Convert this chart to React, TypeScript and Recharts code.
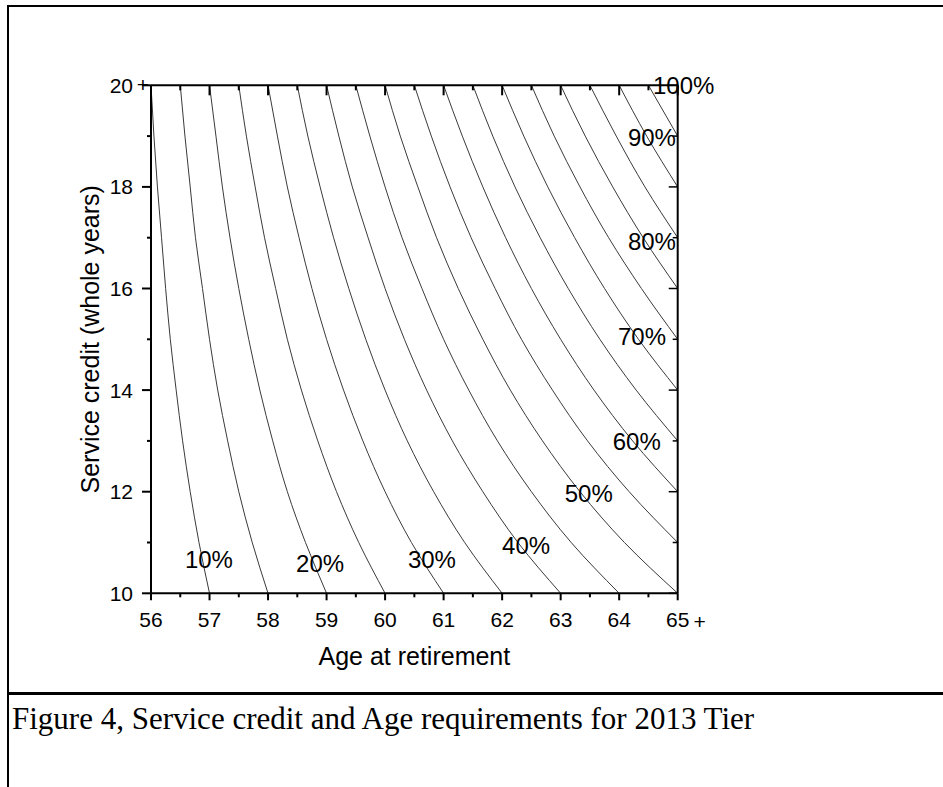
import React from 'react';
import { ComposedChart, Line, Scatter, XAxis, YAxis } from 'recharts';

// service credit rows the contour ages are read at (whole years)
const serviceYears = [10, 11, 12, 13, 14, 15, 16, 17, 18, 19, 20];

// contour levels (%) – one line each, 100% is only the top-right corner
const contourLevels = [10, 15, 20, 25, 30, 35, 40, 45, 50, 55, 60, 65, 70, 75, 80, 85, 90, 95];

// age at retirement where each contour crosses the service rows above (null = outside the plot)
const contourAges: (number | null)[][] = [
  [57.0, 56.82, 56.67, 56.54, 56.43, 56.33, 56.25, 56.18, 56.11, 56.05, 56.0],
  [58.0, 57.73, 57.5, 57.31, 57.14, 57.0, 56.88, 56.76, 56.67, 56.58, 56.5],
  [59.0, 58.64, 58.33, 58.08, 57.86, 57.67, 57.5, 57.35, 57.22, 57.11, 57.0],
  [60.0, 59.55, 59.17, 58.85, 58.57, 58.33, 58.13, 57.94, 57.78, 57.63, 57.5],
  [61.0, 60.45, 60.0, 59.62, 59.29, 59.0, 58.75, 58.53, 58.33, 58.16, 58.0],
  [62.0, 61.36, 60.83, 60.38, 60.0, 59.67, 59.38, 59.12, 58.89, 58.68, 58.5],
  [63.0, 62.27, 61.67, 61.15, 60.71, 60.33, 60.0, 59.71, 59.44, 59.21, 59.0],
  [64.0, 63.18, 62.5, 61.92, 61.43, 61.0, 60.63, 60.29, 60.0, 59.74, 59.5],
  [65.0, 64.09, 63.33, 62.69, 62.14, 61.67, 61.25, 60.88, 60.56, 60.26, 60.0],
  [null, 65.0, 64.17, 63.46, 62.86, 62.33, 61.88, 61.47, 61.11, 60.79, 60.5],
  [null, null, 65.0, 64.23, 63.57, 63.0, 62.5, 62.06, 61.67, 61.32, 61.0],
  [null, null, null, 65.0, 64.29, 63.67, 63.13, 62.65, 62.22, 61.84, 61.5],
  [null, null, null, null, 65.0, 64.33, 63.75, 63.24, 62.78, 62.37, 62.0],
  [null, null, null, null, null, 65.0, 64.38, 63.82, 63.33, 62.89, 62.5],
  [null, null, null, null, null, null, 65.0, 64.41, 63.89, 63.42, 63.0],
  [null, null, null, null, null, null, null, 65.0, 64.44, 63.95, 63.5],
  [null, null, null, null, null, null, null, null, 65.0, 64.47, 64.0],
  [null, null, null, null, null, null, null, null, null, 65.0, 64.5],
];

// contour labels, placed on their lines
const labelTexts = ['10%', '20%', '30%', '40%', '50%', '60%', '70%', '80%', '90%', '100%'];
const labelAges = [56.99, 58.89, 60.8, 62.41, 63.48, 64.3, 64.39, 64.56, 64.56, 65.0];
const labelService = [10.67, 10.59, 10.66, 10.95, 11.96, 12.98, 15.06, 16.93, 18.97, 20.0];

const ageTicks = [56, 56.5, 57, 57.5, 58, 58.5, 59, 59.5, 60, 60.5, 61, 61.5, 62, 62.5, 63, 63.5, 64, 64.5, 65];
const serviceTicks = [10, 11, 12, 13, 14, 15, 16, 17, 18, 19, 20];

const FONT = '"Liberation Sans", Arial, sans-serif';

const contourSeries = contourLevels.map((level, i) => ({
  level,
  data: serviceYears
    .map((s, j) => ({ service: s, age: contourAges[i][j] }))
    .filter((d) => d.age !== null)
    .reverse(),
}));

const labelData = labelTexts.map((text, i) => ({ text, age: labelAges[i], service: labelService[i] }));

const BottomTick = (props: any) => {
  const { x, y, payload } = props;
  const v = payload.value;
  const major = Number.isInteger(v);
  return (
    <g>
      <line x1={x} x2={x} y1={y} y2={y + (major ? 7 : 4)} stroke="#000" strokeWidth={2} />
      {major && (
        <text x={x} y={y + 34} textAnchor="middle" fontSize={21} fontFamily={FONT} fill="#000">
          {v}
        </text>
      )}
      {v === 65 && (
        <text x={x + 22} y={y + 36} textAnchor="middle" fontSize={21} fontFamily={FONT} fill="#000">
          +
        </text>
      )}
    </g>
  );
};

const LeftTick = (props: any) => {
  const { x, y, payload } = props;
  const v = payload.value;
  const major = v % 2 === 0;
  return (
    <g>
      <line x1={x} x2={x - (major ? 9 : 4)} y1={y} y2={y} stroke="#000" strokeWidth={2} />
      {major && (
        <text x={x - 18} y={y + 7.5} textAnchor="end" fontSize={21} fontFamily={FONT} fill="#000">
          {v}
        </text>
      )}
      {v === 20 && (
        <text x={x - 8} y={y + 7} textAnchor="middle" fontSize={21} fontFamily={FONT} fill="#000">
          +
        </text>
      )}
    </g>
  );
};

const TopTick = (props: any) => {
  const { x, y, payload } = props;
  const major = Number.isInteger(payload.value);
  return <line x1={x} x2={x} y1={y} y2={y + (major ? 10 : 5)} stroke="#000" strokeWidth={2} />;
};

const RightTick = (props: any) => {
  const { x, y, payload } = props;
  const major = payload.value % 2 === 0;
  return <line x1={x} x2={x - (major ? 9 : 5)} y1={y} y2={y} stroke="#000" strokeWidth={1.5} />;
};

const ContourLabel = (props: any) => {
  const { cx, cy, payload } = props;
  const dx = payload.age >= 65 ? 6 : 0;
  return (
    <text x={cx + dx} y={cy + 8.5} textAnchor="middle" fontSize={24} fontFamily={FONT} fill="#000">
      {payload.text}
    </text>
  );
};

export default function App() {
  const last = contourSeries[contourSeries.length - 1];
  return (
    <div style={{ position: 'absolute', left: 0, top: 0, width: 943, height: 787, background: '#fff', overflow: 'hidden' }}>
      <div style={{ position: 'absolute', left: 7, top: 5, width: 2, height: 782, background: '#000' }} />
      <div style={{ position: 'absolute', left: 7, top: 5, width: 936, height: 2, background: '#000' }} />
      <div style={{ position: 'absolute', left: 7, top: 692, width: 936, height: 3, background: '#000' }} />
      <div
        style={{
          position: 'absolute',
          left: 12,
          top: 703,
          fontFamily: '"Liberation Serif", "Times New Roman", serif',
          fontSize: 31,
          lineHeight: '31px',
          whiteSpace: 'nowrap',
          color: '#000',
        }}
      >
        Figure 4, Service credit and Age requirements for 2013 Tier
      </div>
      <div style={{ position: 'absolute', left: 0, top: 0 }}>
        <ComposedChart width={943} height={787} margin={{ top: 84.3, right: 264.3, bottom: 113.7, left: 71 }}>
          <XAxis
            type="number"
            dataKey="age"
            domain={[56, 65]}
            ticks={ageTicks}
            interval={0}
            height={80}
            tickSize={0}
            tickMargin={0}
            tickLine={false}
            axisLine={{ stroke: '#000', strokeWidth: 2 }}
            tick={<BottomTick />}
            label={{ value: 'Age at retirement', position: 'insideBottom', offset: 8, fontSize: 25, fontFamily: FONT, fill: '#000' }}
          />
          <XAxis
            xAxisId="top"
            orientation="top"
            type="number"
            dataKey="age"
            domain={[56, 65]}
            ticks={ageTicks}
            interval={0}
            height={1}
            tickSize={0}
            tickMargin={0}
            tickLine={false}
            axisLine={{ stroke: '#000', strokeWidth: 2 }}
            tick={<TopTick />}
          />
          <YAxis
            type="number"
            dataKey="service"
            domain={[10, 20]}
            ticks={serviceTicks}
            interval={0}
            width={80}
            tickSize={0}
            tickMargin={0}
            tickLine={false}
            axisLine={{ stroke: '#000', strokeWidth: 2 }}
            tick={<LeftTick />}
            label={{
              value: 'Service credit (whole years)',
              angle: -90,
              position: 'insideLeft',
              offset: 19,
              fontSize: 25,
              fontFamily: FONT,
              fill: '#000',
              style: { textAnchor: 'middle' },
            }}
          />
          <YAxis
            yAxisId="right"
            orientation="right"
            type="number"
            dataKey="service"
            domain={[10, 20]}
            ticks={serviceTicks}
            interval={0}
            width={1}
            tickSize={0}
            tickMargin={0}
            tickLine={false}
            axisLine={{ stroke: '#000', strokeWidth: 2 }}
            tick={<RightTick />}
          />
          {contourSeries.slice(0, -1).map((c) => (
            <Line
              key={c.level}
              data={c.data}
              dataKey="service"
              type="monotoneY"
              stroke="#3a3a3a"
              strokeWidth={1}
              dot={false}
              activeDot={false}
              isAnimationActive={false}
            />
          ))}
          <Line
            key={last.level}
            xAxisId="top"
            yAxisId="right"
            data={last.data}
            dataKey="service"
            type="monotoneY"
            stroke="#3a3a3a"
            strokeWidth={1}
            dot={false}
            activeDot={false}
            isAnimationActive={false}
          />
          <Scatter data={labelData} dataKey="service" shape={<ContourLabel />} isAnimationActive={false} />
        </ComposedChart>
      </div>
    </div>
  );
}
